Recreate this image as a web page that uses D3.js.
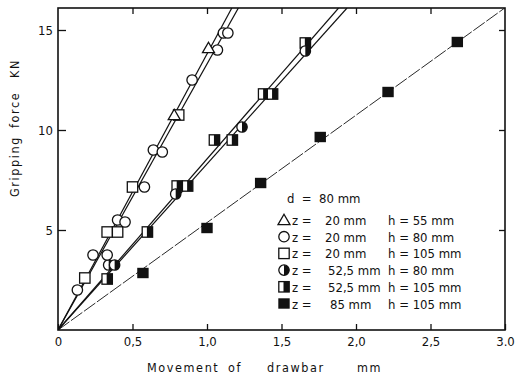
<!DOCTYPE html>
<meta charset="utf-8">
<style>
  body { margin: 0; background: #fff; }
  text { font-family: "DejaVu Sans Condensed", "DejaVu Sans", sans-serif; font-stretch: condensed; fill: #111; }
  .tick text { font-size: 13px; }
  .axis-title { font-size: 12.5px; letter-spacing: 1.6px; }
  .legend text { font-size: 13px; }
</style>
<svg width="515" height="379"></svg>
<script src="https://d3js.org/d3.v7.min.js"></script>
<script>

// ticks
var xTicks = [0, 0.5, 1, 1.5, 2, 2.5, 3];
var xTickLabels = ["0", "0,5", "1,0", "1,5", "2,0", "2,5", "3.0"];
var yTicks = [5, 10, 15];

// measured points (movement mm, force kN)
var tri55 = [[0.78, 10.75], [1.01, 14.1]];
var circ80 = [[0.13, 2.0], [0.235, 3.75], [0.33, 3.75], [0.40, 5.5], [0.45, 5.4], [0.58, 7.15],
              [0.64, 9.0], [0.70, 8.9], [0.90, 12.5], [1.07, 14.0], [1.11, 14.85], [1.14, 14.85]];
var sq105 = [[0.18, 2.6], [0.33, 4.9], [0.40, 4.9], [0.50, 7.15], [0.81, 10.75]];
var halfCirc80 = [[0.34, 3.25], [0.38, 3.25], [0.79, 6.8], [1.235, 10.15], [1.66, 13.95]];
var halfSq105 = [[0.33, 2.55], [0.60, 4.9], [0.80, 7.2], [0.87, 7.2], [1.05, 9.5], [1.17, 9.5],
                 [1.38, 11.8], [1.44, 11.8], [1.66, 14.35]];
var fullSq105 = [[0.57, 2.85], [1.00, 5.1], [1.36, 7.35], [1.76, 9.65], [2.215, 11.9], [2.68, 14.4]];

// fitted lines through origin (kN per mm)
var fitSlopes = [13.8, 13.3, 8.55, 8.3, 5.37];

// legend
var legendD = "d  =  80 mm";
var legendShapes = ["tri", "circ", "sq", "halfCirc", "halfSq", "fullSq"];
var legendZ = ["20 mm", "20 mm", "20 mm", "52,5 mm", "52,5 mm", "85 mm"];
var legendH = ["55 mm", "80 mm", "105 mm", "80 mm", "105 mm", "105 mm"];

var svg = d3.select("svg"),
    pL = 58, pR = 505, pT = 8, pB = 330;

var x = d3.scaleLinear().domain([0, 3]).range([pL, pR]);
var y = d3.scaleLinear().domain([0, 16.1]).range([pB, pT]);

// axes (ticks point inward)
var gx = svg.append("g").attr("transform", "translate(0," + pB + ")")
    .call(d3.axisBottom(x).tickValues(xTicks).tickSizeInner(-6).tickSizeOuter(0).tickPadding(7)
        .tickFormat(function(d, i) { return xTickLabels[i]; }));
var gy = svg.append("g").attr("transform", "translate(" + pL + ",0)")
    .call(d3.axisLeft(y).tickValues(yTicks).tickSizeInner(-8).tickSizeOuter(0).tickPadding(5));
var gt = svg.append("g").attr("transform", "translate(0," + pT + ")")
    .call(d3.axisTop(x).tickValues(xTicks.slice(1, -1)).tickSizeInner(-6).tickSizeOuter(0).tickFormat(""));
var gr = svg.append("g").attr("transform", "translate(" + pR + ",0)")
    .call(d3.axisRight(y).tickValues(yTicks).tickSizeInner(-6).tickSizeOuter(0).tickFormat(""));

[gx, gy, gt, gr].forEach(function(g) {
    g.select(".domain").remove();
    g.selectAll("line").attr("stroke", "#111").attr("stroke-width", 1.3);
    g.selectAll("text").attr("fill", "#111");
});

svg.append("rect")
    .attr("x", pL).attr("y", pT)
    .attr("width", pR - pL).attr("height", pB - pT)
    .attr("fill", "none").attr("stroke", "#111").attr("stroke-width", 1.6);

// fitted lines
svg.append("clipPath").attr("id", "clip").append("rect")
    .attr("x", pL).attr("y", pT).attr("width", pR - pL).attr("height", pB - pT);

svg.append("g").attr("clip-path", "url(#clip)")
    .selectAll("line").data(fitSlopes).enter().append("line")
    .attr("x1", x(0)).attr("y1", y(0))
    .attr("x2", function(k) { return x(Math.min(3, 16.1 / k)); })
    .attr("y2", function(k) { return y(Math.min(16.1, 3 * k)); })
    .attr("stroke", "#111")
    .attr("stroke-width", function(k, i) { return i === 4 ? 0.9 : 1.2; })
    .attr("stroke-dasharray", function(k, i) { return i === 4 ? "14,2" : null; });

// marker drawing
function marker(g, shape) {
    var s = 5.2;
    if (shape === "tri") {
        g.append("path").attr("d", "M0," + (-s - 0.5) + "L" + (s + 0.8) + "," + (s - 0.5) + "L" + (-s - 0.8) + "," + (s - 0.5) + "Z")
            .attr("fill", "#fff").attr("stroke", "#111").attr("stroke-width", 1.3);
    } else if (shape === "circ") {
        g.append("circle").attr("r", s).attr("fill", "#fff").attr("stroke", "#111").attr("stroke-width", 1.3);
    } else if (shape === "sq") {
        g.append("rect").attr("x", -s).attr("y", -s).attr("width", 2 * s).attr("height", 2 * s)
            .attr("fill", "#fff").attr("stroke", "#111").attr("stroke-width", 1.3);
    } else if (shape === "halfCirc") {
        g.append("circle").attr("r", s).attr("fill", "#fff").attr("stroke", "#111").attr("stroke-width", 1.3);
        g.append("path").attr("d", "M0," + (-s) + "A" + s + "," + s + " 0 0 1 0," + s + "Z").attr("fill", "#111");
    } else if (shape === "halfSq") {
        g.append("rect").attr("x", -s).attr("y", -s).attr("width", 2 * s).attr("height", 2 * s)
            .attr("fill", "#fff").attr("stroke", "#111").attr("stroke-width", 1.3);
        g.append("rect").attr("x", -0.5).attr("y", -s).attr("width", s + 0.5).attr("height", 2 * s).attr("fill", "#111");
    } else {
        g.append("rect").attr("x", -s - 0.5).attr("y", -s).attr("width", 2 * s + 1).attr("height", 2 * s).attr("fill", "#111");
    }
}

var series = [
    {shape: "fullSq", data: fullSq105},
    {shape: "halfSq", data: halfSq105},
    {shape: "halfCirc", data: halfCirc80},
    {shape: "sq", data: sq105},
    {shape: "circ", data: circ80},
    {shape: "tri", data: tri55}
];

series.forEach(function(s) {
    svg.append("g").selectAll("g").data(s.data).enter().append("g")
        .attr("transform", function(d) { return "translate(" + x(d[0]) + "," + y(d[1]) + ")"; })
        .each(function() { marker(d3.select(this), s.shape); });
});

// legend
var lg = svg.append("g").attr("class", "legend");
lg.append("text").attr("x", 287).attr("y", 203).text(legendD).style("white-space", "pre");
legendShapes.forEach(function(sh, i) {
    var yy = 220 + i * 16.7;
    var g = lg.append("g").attr("transform", "translate(284," + yy + ")");
    marker(g, sh);
    lg.append("text").attr("x", 292).attr("y", yy + 5).text("z =");
    lg.append("text").attr("x", 325 + (i >= 3 && i < 5 ? 3 : 0) + (i === 5 ? 5 : 0)).attr("y", yy + 5).text(legendZ[i]);
    lg.append("text").attr("x", 388).attr("y", yy + 5).text("h = " + legendH[i]);
});

// axis titles
var xt = svg.append("text").attr("class", "axis-title").attr("y", 372);
[["Movement", 147], ["of", 228], ["drawbar", 267], ["mm", 357]].forEach(function(w) {
    xt.append("tspan").attr("x", w[1]).text(w[0]);
});

var yt = svg.append("text").attr("class", "axis-title")
    .attr("transform", "translate(19,0) rotate(-90)");
[["Gripping", -197], ["force", -128], ["KN", -78]].forEach(function(w) {
    yt.append("tspan").attr("x", w[1]).text(w[0]);
});

</script>
